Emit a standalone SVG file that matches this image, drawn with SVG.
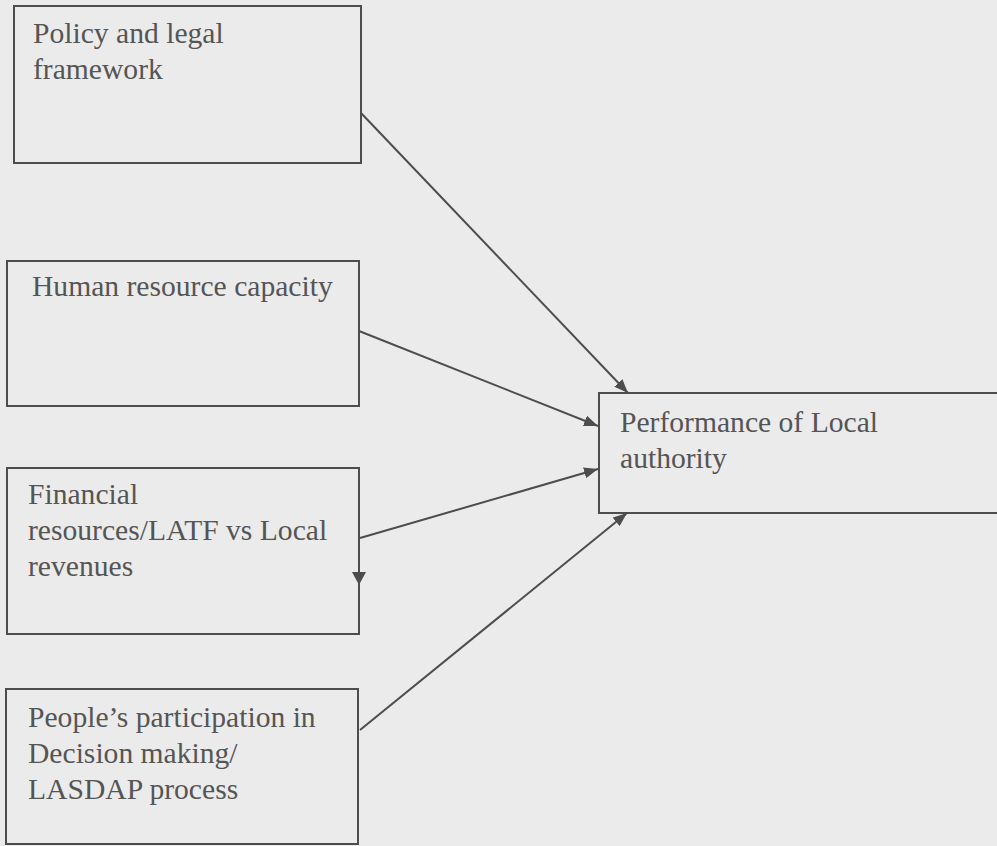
<svg xmlns="http://www.w3.org/2000/svg" width="997" height="846" viewBox="0 0 997 846">
<style>
.box{fill:none;stroke:#4d4d4d;stroke-width:2}
.lbl{font-family:"Liberation Serif","Times New Roman",serif;font-size:29.6px;fill:#555}
.con{stroke:#4d4d4d;stroke-width:2;fill:none}
</style>
<defs>
<marker id="ah" viewBox="0 0 14 11" refX="14" refY="5.5" markerWidth="14" markerHeight="11" markerUnits="userSpaceOnUse" orient="auto">
<path d="M0,0 L14,5.5 L0,11 Z" fill="#4d4d4d"/>
</marker>
</defs>
<rect width="997" height="846" fill="#ebebeb"/>
<g id="policy">
<rect class="box" x="14" y="6" width="347" height="157"/>
<text class="lbl" x="33" y="43">Policy and legal</text>
<text class="lbl" x="33" y="79">framework</text>
</g>
<g id="human">
<rect class="box" x="7" y="261" width="352" height="145"/>
<text class="lbl" x="32" y="296">Human resource capacity</text>
</g>
<g id="financial">
<rect class="box" x="7" y="468" width="352" height="166"/>
<text class="lbl" x="28" y="504">Financial</text>
<text class="lbl" x="28" y="540">resources/LATF vs Local</text>
<text class="lbl" x="28" y="576">revenues</text>
<path d="M352,572 L366,572 L359,585 Z" fill="#4d4d4d"/>
</g>
<g id="people">
<rect class="box" x="6" y="689" width="352" height="155"/>
<text class="lbl" x="28" y="727">People’s participation in</text>
<text class="lbl" x="28" y="763">Decision making/</text>
<text class="lbl" x="28" y="799">LASDAP process</text>
</g>
<g id="performance">
<rect class="box" x="599" y="393" width="410" height="120"/>
<text class="lbl" x="620" y="432">Performance of Local</text>
<text class="lbl" x="620" y="468">authority</text>
</g>
<g id="connectors">
<line class="con" x1="361" y1="113" x2="628" y2="393" marker-end="url(#ah)"/>
<line class="con" x1="359" y1="331" x2="598" y2="426" marker-end="url(#ah)"/>
<line class="con" x1="360" y1="538" x2="598" y2="469" marker-end="url(#ah)"/>
<line class="con" x1="360" y1="730" x2="627" y2="513" marker-end="url(#ah)"/>
</g>
</svg>
